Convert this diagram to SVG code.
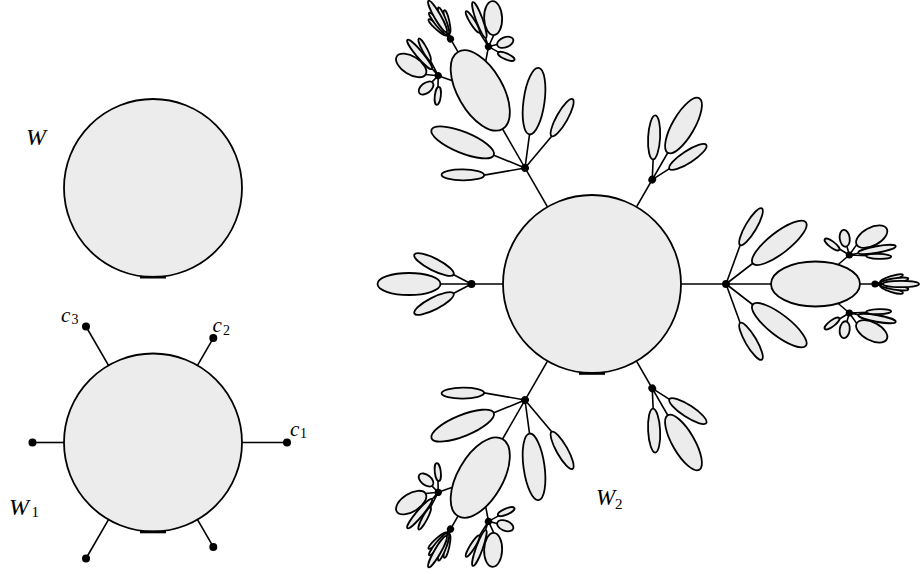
<svg xmlns="http://www.w3.org/2000/svg" width="920" height="574" viewBox="0 0 920 574">
  <style>
    .ln { stroke: #000; stroke-width: 1.6; fill: none; }
    .el { fill: #ececec; stroke: #000; stroke-width: 1.8; }
    .bar { stroke: #000; stroke-width: 2.6; fill: none; }
    .dot { fill: #000; }
    .lbl { font-family: "Liberation Serif", "DejaVu Serif", serif; font-style: italic; fill: #000; }
    .sub { font-family: "Liberation Serif", "DejaVu Serif", serif; font-style: normal; fill: #000; }
  </style>
  <defs>
    <!-- Branch templates: origin = centre of the main disc, branch points along +x -->
    <g id="bigLinks" class="ln">
      <path d="M89 0H283"/>
      <path d="M134 0L187.3 -41.2M134 0L187.3 41.2"/>
      <path d="M134 0L148.2 -39M134 0L148.2 39"/>
      <path d="M223.5 0L257.3 -29M223.5 0L257.3 29"/>
      <path d="M257.3 -29L240 -39.5M257.3 -29L252.7 -45.7M257.3 -29L264.7 -39.4M257.3 -29L285 -34.5M257.3 -29L286.7 -27.7"/>
      <path d="M257.3 29L240 39.5M257.3 29L252.7 45.7M257.3 29L264.7 39.4M257.3 29L285 34.5M257.3 29L286.7 27.7"/>
      <path d="M283 0H309M283 0L302.5 -3.2M283 0L302.5 3.2M283 0L299.5 -5.5M283 0L299.5 5.5"/>
    </g>
    <g id="bigLeaves">
      <ellipse class="el" cx="223.5" cy="0" rx="44.5" ry="22.5"/>
      <ellipse class="el" cx="187.3" cy="-41.2" rx="33.6" ry="10.5" transform="rotate(-37.8 187.3 -41.2)"/>
      <ellipse class="el" cx="187.3" cy="41.2" rx="33.6" ry="10.5" transform="rotate(37.8 187.3 41.2)"/>
      <ellipse class="el" cx="159" cy="-57.3" rx="21.3" ry="5.5" transform="rotate(-59.4 159 -57.3)"/>
      <ellipse class="el" cx="159" cy="57.3" rx="21.3" ry="5.5" transform="rotate(59.4 159 57.3)"/>
      <!-- upper sub-node -->
      <ellipse class="el" cx="240" cy="-39.5" rx="9" ry="3" transform="rotate(-143.2 240 -39.5)"/>
      <ellipse class="el" cx="252.7" cy="-45.7" rx="8.5" ry="5" transform="rotate(-98 252.7 -45.7)"/>
      <ellipse class="el" cx="279.7" cy="-47.3" rx="17" ry="9" transform="rotate(-27.8 279.7 -47.3)"/>
      <ellipse class="el" cx="285" cy="-34.5" rx="19" ry="3.3" transform="rotate(-10 285 -34.5)"/>
      <ellipse class="el" cx="286.7" cy="-27.7" rx="12.5" ry="2.5" transform="rotate(2 286.7 -27.7)"/>
      <!-- lower sub-node -->
      <ellipse class="el" cx="240" cy="39.5" rx="9" ry="3" transform="rotate(143.2 240 39.5)"/>
      <ellipse class="el" cx="252.7" cy="45.7" rx="8.5" ry="5" transform="rotate(98 252.7 45.7)"/>
      <ellipse class="el" cx="279.7" cy="47.3" rx="17" ry="9" transform="rotate(27.8 279.7 47.3)"/>
      <ellipse class="el" cx="285" cy="34.5" rx="19" ry="3.3" transform="rotate(10 285 34.5)"/>
      <ellipse class="el" cx="286.7" cy="27.7" rx="12.5" ry="2.5" transform="rotate(-2 286.7 27.7)"/>
      <!-- end sub-node fan -->
      <ellipse class="el" cx="299.5" cy="-5.5" rx="12" ry="2.4" transform="rotate(-18 299.5 -5.5)"/>
      <ellipse class="el" cx="299.5" cy="5.5" rx="12" ry="2.4" transform="rotate(18 299.5 5.5)"/>
      <ellipse class="el" cx="302.5" cy="-3.2" rx="14" ry="2.5" transform="rotate(-9 302.5 -3.2)"/>
      <ellipse class="el" cx="302.5" cy="3.2" rx="14" ry="2.5" transform="rotate(9 302.5 3.2)"/>
      <ellipse class="el" cx="309" cy="0" rx="18" ry="3.2"/>
      <circle class="dot" cx="134" cy="0" r="3.9"/>
      <circle class="dot" cx="257.3" cy="-29" r="3.6"/>
      <circle class="dot" cx="257.3" cy="29" r="3.6"/>
      <circle class="dot" cx="283" cy="0" r="3.6"/>
    </g>
    <g id="smallLinks" class="ln">
      <path d="M89 0H183M120.5 0L158 -19.5M120.5 0L158 19.5"/>
    </g>
    <g id="smallLeaves">
      <ellipse class="el" cx="183" cy="0" rx="31.5" ry="11"/>
      <ellipse class="el" cx="158" cy="-19.5" rx="22" ry="6" transform="rotate(-27 158 -19.5)"/>
      <ellipse class="el" cx="158" cy="19.5" rx="22" ry="6" transform="rotate(27 158 19.5)"/>
      <circle class="dot" cx="120.5" cy="0" r="3.9"/>
    </g>
  </defs>

  <rect width="920" height="574" fill="#fff"/>

  <!-- connectors -->
  <g id="connectors">
    <g class="ln">
      <path d="M242 442.5H287"/>
      <path d="M197.5 365.4L213.3 338.1"/>
      <path d="M108.5 365.4L86 326.5"/>
      <path d="M64 442.5H32.5"/>
      <path d="M108.5 519.6L86 558.5"/>
      <path d="M197.5 519.6L213.3 546.9"/>
    </g>
    <use href="#bigLinks" transform="translate(592 284)"/>
    <use href="#bigLinks" transform="translate(592 284) rotate(-120)"/>
    <use href="#bigLinks" transform="translate(592 284) rotate(120)"/>
    <use href="#smallLinks" transform="translate(592 284) rotate(-60)"/>
    <use href="#smallLinks" transform="translate(592 284) rotate(180)"/>
    <use href="#smallLinks" transform="translate(592 284) rotate(60)"/>
  </g>

  <!-- W -->
  <g id="W">
    <circle class="el" cx="153" cy="188" r="89"/>
    <path class="bar" d="M140 277.2H166"/>
    <text class="lbl" x="26" y="145" font-size="24">W</text>
  </g>

  <!-- W1 -->
  <g id="W1">
    <circle class="el" cx="153" cy="442.5" r="89"/>
    <path class="bar" d="M140 532H166"/>
    <text class="lbl" x="9" y="515" font-size="24">W</text>
    <text class="sub" x="31.5" y="517" font-size="15">1</text>
  </g>
  <g id="W1-c1"><circle class="dot" cx="287" cy="442.5" r="4"/>
    <text class="lbl" x="290" y="436" font-size="21">c</text><text class="sub" x="300" y="438" font-size="14">1</text></g>
  <g id="W1-c2"><circle class="dot" cx="213.3" cy="338.1" r="4"/>
    <text class="lbl" x="212.5" y="332" font-size="21">c</text><text class="sub" x="223" y="334.5" font-size="14">2</text></g>
  <g id="W1-c3"><circle class="dot" cx="86" cy="326.5" r="4"/>
    <text class="lbl" x="61" y="321.5" font-size="21">c</text><text class="sub" x="71.5" y="323.5" font-size="14">3</text></g>
  <g id="W1-c4"><circle class="dot" cx="32.5" cy="442.5" r="4"/></g>
  <g id="W1-c5"><circle class="dot" cx="86" cy="558.5" r="4"/></g>
  <g id="W1-c6"><circle class="dot" cx="213.3" cy="546.9" r="4"/></g>

  <!-- W2 -->
  <g id="W2">
    <circle class="el" cx="592" cy="284" r="89"/>
    <path class="bar" d="M579 373.5H605"/>
    <text class="lbl" x="596" y="505" font-size="23">W</text>
    <text class="sub" x="615" y="509" font-size="15">2</text>
  </g>
  <g id="W2-branch-right"><use href="#bigLeaves" transform="translate(592 284)"/></g>
  <g id="W2-branch-upper-left"><use href="#bigLeaves" transform="translate(592 284) rotate(-120)"/></g>
  <g id="W2-branch-lower-left"><use href="#bigLeaves" transform="translate(592 284) rotate(120)"/></g>
  <g id="W2-branch-upper-right"><use href="#smallLeaves" transform="translate(592 284) rotate(-60)"/></g>
  <g id="W2-branch-left"><use href="#smallLeaves" transform="translate(592 284) rotate(180)"/></g>
  <g id="W2-branch-lower-right"><use href="#smallLeaves" transform="translate(592 284) rotate(60)"/></g>
</svg>
